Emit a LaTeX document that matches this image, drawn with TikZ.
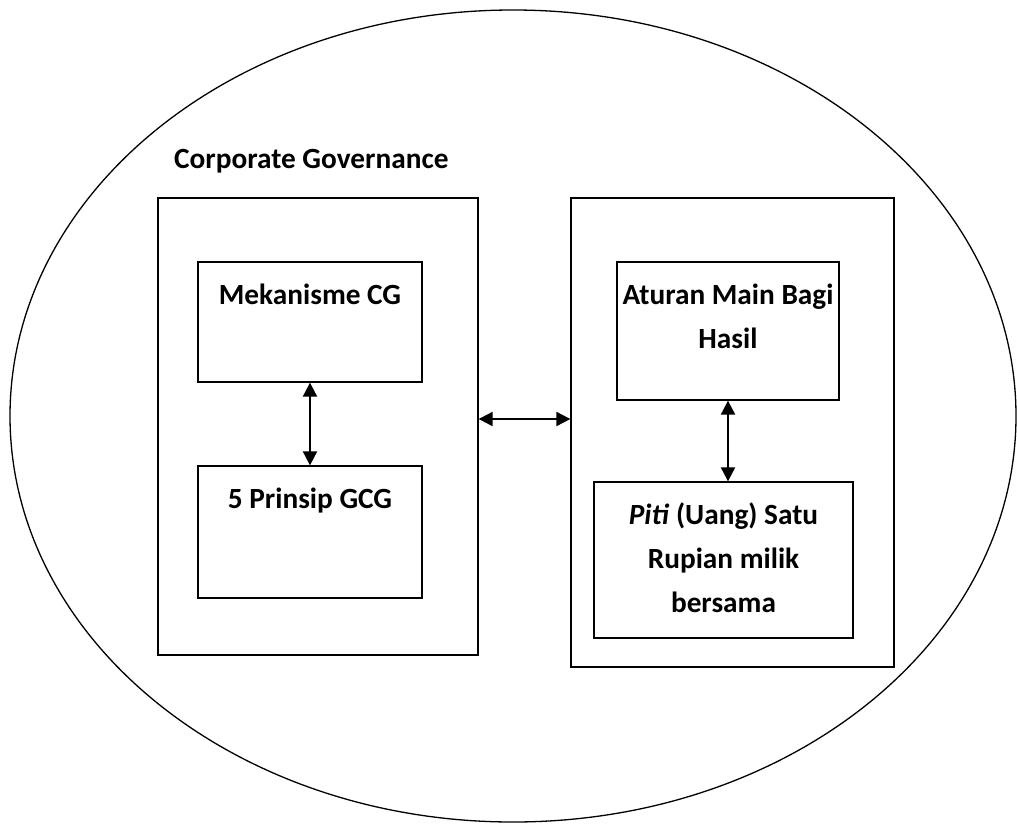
\documentclass[tikz,border=0pt]{standalone}
\usepackage{fontspec}
\setmainfont{Carlito}
\usetikzlibrary{arrows.meta,calc}
\begin{document}
\begin{tikzpicture}[x=1pt,y=-1pt,
  box/.style={draw,line width=1.3pt,rectangle,inner sep=0pt},
  lbl/.style={font=\fontsize{29.3}{44}\selectfont\bfseries,align=center,inner sep=0pt,anchor=north},
  dbl/.style={line width=2pt,{Triangle[length=14pt,width=14pt]}-{Triangle[length=14pt,width=14pt]}}]
\useasboundingbox (0,0) rectangle (1017,825);
\draw[line width=1.3pt] (513,416) ellipse [x radius=503pt, y radius=406pt];
\node[lbl,anchor=base west] (cg) at (174,168) {Corporate Governance};
\node[box,minimum width=320pt,minimum height=457pt] (LO) at (318,426.5) {};
\node[box,minimum width=224pt,minimum height=120pt] (mek) at (310,322) {};
\node[box,minimum width=224pt,minimum height=132pt] (pri) at (310,532) {};
\node[box,minimum width=323pt,minimum height=469pt] (RO) at (732.5,432.5) {};
\node[box,minimum width=222pt,minimum height=138pt] (atu) at (728,331) {};
\node[box,minimum width=259pt,minimum height=156pt] (piti) at (723.5,560) {};
\node[lbl] (tmek) at ($(mek.north)+(0,22)$) {Mekanisme CG};
\node[lbl] (tpri) at ($(pri.north)+(0,22)$) {5 Prinsip GCG};
\node[lbl] (tatu) at ($(atu.north)+(0,22)$) {Aturan Main Bagi\\Hasil};
\node[lbl] (tpiti) at ($(piti.north)+(0,21)$) {\textit{Piti} (Uang) Satu\\Rupian milik\\bersama};
\draw[dbl] (mek.south) -- (pri.north);
\draw[dbl] (atu.south) -- (atu.south |- piti.north);
\coordinate (hl) at ($(LO.east)+(0,-7.5)$);
\draw[dbl] (hl) -- (hl -| RO.west);
\end{tikzpicture}
\end{document}
